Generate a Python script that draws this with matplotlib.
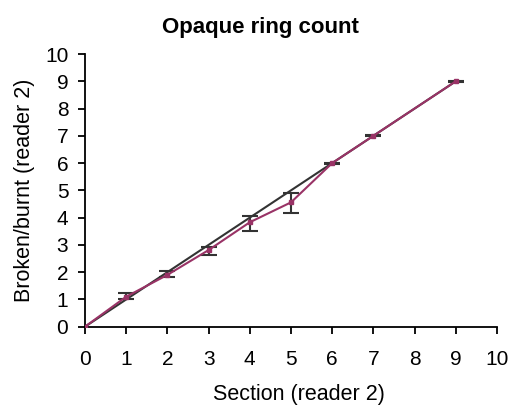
import numpy as np
import matplotlib.pyplot as plt

plt.rcParams['font.family'] = ['Liberation Sans', 'DejaVu Sans']

# 1:1 reference line
ref_x = [0, 9]
ref_y = [0, 9]

# reader comparison (mean and error range)
section = [0, 1, 2, 3, 4, 5, 6, 7, 9]
broken = [0, 1.10, 1.90, 2.81, 3.83, 4.56, 6.0, 7.0, 9.0]
err_lo = [0, 0.08, 0.09, 0.18, 0.32, 0.40, 0.02, 0.02, 0.02]
err_hi = [0, 0.12, 0.14, 0.12, 0.24, 0.33, 0.02, 0.02, 0.02]

fig = plt.figure(figsize=(5.13, 4.08), dpi=100)
ax = fig.add_axes([0.1657, 0.1993, 0.8031, 0.6683])

ax.plot(ref_x, ref_y, color='#333333', lw=1.5, zorder=2)
ax.errorbar(section[1:], broken[1:], yerr=[err_lo[1:], err_hi[1:]], fmt='none',
            ecolor='#333333', elinewidth=1.5, capsize=5.8, capthick=1.5, zorder=3)
ax.plot(section, broken, color='#993366', lw=1.5, marker='s', ms=3.5, zorder=4)

ax.set_xlim(0, 10)
ax.set_ylim(0, 10)
ax.set_xticks(range(0, 11))
ax.set_yticks(range(0, 11))
for s in ['top', 'right']:
    ax.spines[s].set_visible(False)
for s in ['left', 'bottom']:
    ax.spines[s].set_linewidth(1.3)
ax.tick_params(direction='out', length=5, width=1.3, labelsize=15, pad=7)
ax.tick_params(axis='x', pad=11.5)

ax.set_ylabel('Broken/burnt (reader 2)', fontsize=15.5, labelpad=7)
fig.text(0.583, 0.02, 'Section (reader 2)', fontsize=15.5, ha='center', va='baseline')
fig.text(0.507, 0.92, 'Opaque ring count', fontsize=16, fontweight='bold',
         ha='center', va='baseline')

fig.savefig('out.png', dpi=100)
